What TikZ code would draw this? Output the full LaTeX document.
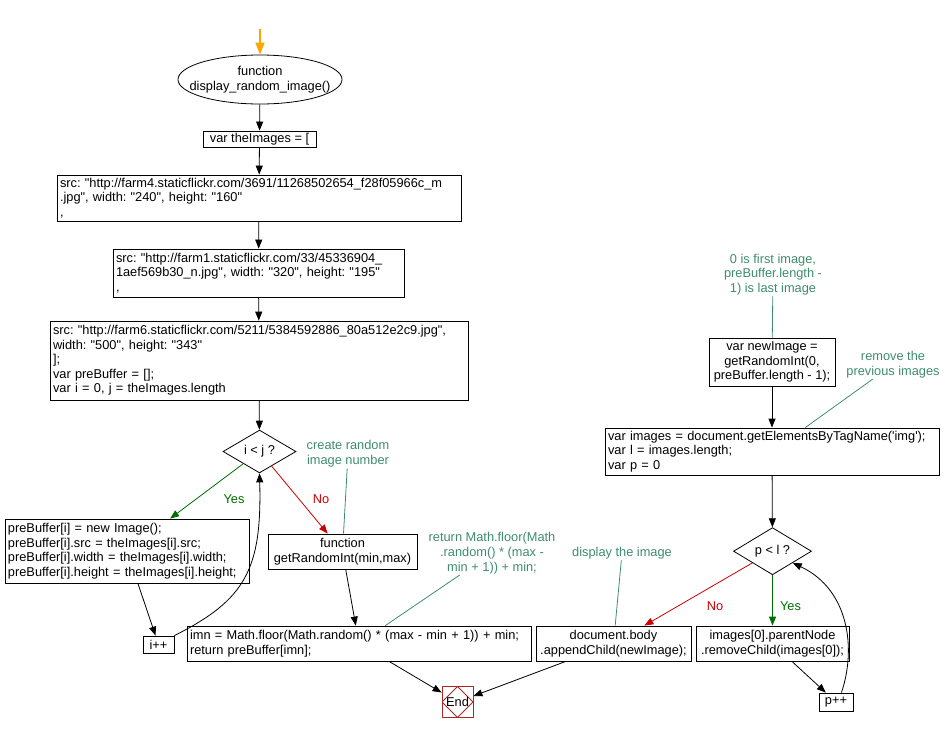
\documentclass[tikz,border=0pt]{standalone}
\usepackage{fontspec}
\setmainfont{Liberation Sans}[Ligatures=TeXOff]
\frenchspacing
\usepackage{tikz}
\usetikzlibrary{arrows.meta,shapes.geometric}
\definecolor{notegreen}{RGB}{62,140,110}
\definecolor{yesgreen}{RGB}{0,110,0}
\definecolor{nored}{RGB}{204,0,0}
\definecolor{endred}{RGB}{170,40,40}
\definecolor{startorange}{RGB}{255,165,0}
\tikzset{
  % 1 unit = 1px, y downwards
  px/.style={x=1pt, y=-1pt},
  % basic box
  box/.style={
    draw,
    line width=0.8pt,
    inner xsep=3pt,
    inner ysep=1pt,
    font=\fontsize{12.8}{14.5}\selectfont,
    align=center
  },
  % code box, left aligned
  code/.style={box, align=left},
  % function ellipse
  term/.style={box, ellipse, inner xsep=-13pt, inner ysep=2pt},
  % condition
  cond/.style={box, diamond, inner sep=0pt},
  % end marker
  stopbox/.style={
    draw=endred,
    line width=0.8pt,
    minimum size=31pt,
    inner sep=0pt,
    font=\fontsize{12.8}{14.5}\selectfont,
    path picture={\draw[endred, line width=0.8pt]
      (path picture bounding box.north) -- (path picture bounding box.east) --
      (path picture bounding box.south) -- (path picture bounding box.west) -- cycle;}
  },
  % comments
  note/.style={font=\fontsize{12.8}{14.8}\selectfont, text=notegreen, align=center, inner sep=1pt},
  link/.style={notegreen, line width=0.8pt},
  % arrows
  arr/.style={-{Triangle[length=9pt, width=7pt]}, line width=0.8pt},
  yesarr/.style={arr, yesgreen},
  noarr/.style={arr, nored},
  startarr/.style={-{Triangle[length=12pt, width=9pt]}, line width=1.6pt, startorange},
  yeslab/.style={font=\fontsize{12.8}{14.5}\selectfont, text=yesgreen},
  nolab/.style={font=\fontsize{12.8}{14.5}\selectfont, text=nored},
}

\begin{document}
\begin{tikzpicture}[px]
    \useasboundingbox (0,0) rectangle (946,734);

    % Left column
    \coordinate (start) at (260,29);
    \node[term, minimum width=164pt, minimum height=49pt] (fn) at (260,79.5) {function\\display\_random\_image()};
    \node[box, minimum width=113pt, minimum height=16pt] (theimg) at (259.5,139) {var theImages = [};
    \node[code, text width=398pt, minimum height=46pt] (src1) at (259,198)
        {src: "http://farm4.staticflickr.com/3691/11268502654\_f28f05966c\_m\\.jpg", width: "240", height: "160"\\,};
    \node[code, text width=285pt, minimum height=48pt] (src2) at (258.5,273)
        {src: "http://farm1.staticflickr.com/33/45336904\_\\1aef569b30\_n.jpg", width: "320", height: "195"\\,};
    \node[code, text width=412pt, minimum height=79pt] (src3) at (259,360.5)
        {src: "http://farm6.staticflickr.com/5211/5384592886\_80a512e2c9.jpg",\\width: "500", height: "343"\\];\\var preBuffer = [];\\var i = 0, j = theImages.length};
    \node[cond, minimum width=73pt, minimum height=39pt] (ij) at (259.5,451.5) {i < j ?};

    % Loop body
    \node[code, text width=238pt, minimum height=64pt] (prebuf) at (127,551)
        {preBuffer[i] = new Image();\\preBuffer[i].src = theImages[i].src;\\preBuffer[i].width = theImages[i].width;\\preBuffer[i].height = theImages[i].height;};
    \node[box, minimum width=31pt, minimum height=17pt] (inc) at (158.5,644.5) {i++};

    % Random function
    \node[box, minimum width=149pt, minimum height=35pt] (rand) at (342.5,551.5) {function\\getRandomInt(min,max)};
    \node[code, text width=338pt, minimum height=35pt] (imn) at (359,643.5)
        {imn = Math.floor(Math.random() * (max - min + 1)) + min;\\return preBuffer[imn];};
    \node[stopbox] (end) at (457.5,702) {End};

    % Right column
    \node[box, minimum width=126pt, minimum height=48pt] (newimg) at (772,362) {var newImage =\\getRandomInt(0,\\preBuffer.length - 1);};
    \node[code, text width=328pt, minimum height=47pt] (imgs) at (772,451.5)
        {var images = document.getElementsByTagName('img');\\var l = images.length;\\var p = 0};
    \node[cond, minimum width=78pt, minimum height=39pt] (pl) at (772.5,551.2) {p < l ?};
    \node[box, minimum width=155pt, minimum height=35pt] (append) at (613.5,643.5) {document.body\\.appendChild(newImage);};
    \node[box, minimum width=153pt, minimum height=35pt] (remove) at (772.5,643.5) {images[0].parentNode\\.removeChild(images[0]);};
    \node[box, minimum width=34pt, minimum height=18pt] (pinc) at (836,702) {p++};

    % Comments
    \node[note] (cmtrand) at (348,454) {create random\\image number};
    \node[note] (cmtfloor) at (492,553) {return Math.floor(Math\\.random() * (max -\\min + 1)) + min;};
    \node[note] (cmtdisp) at (622,553) {display the image};
    \node[note] (cmtfirst) at (773,274.5) {0 is first image,\\preBuffer.length -\\1) is last image};
    \node[note] (cmtremove) at (893,364.5) {remove the\\previous images};

    % Labels
    \node[yeslab] (yes1) at (234,499) {Yes};
    \node[nolab] (no1) at (321,499) {No};
    \node[nolab] (no2) at (715,606.5) {No};
    \node[yeslab] (yes2) at (790.5,606.5) {Yes};

    % Flow
    \draw[startarr] (start) -- (fn);
    \draw[arr] (fn) -- (theimg);
    \draw[arr] (theimg) -- (src1);
    \draw[arr] (src1) -- (src2);
    \draw[arr] (src2) -- (src3);
    \draw[arr] (src3) -- (ij);
    \draw[yesarr] (ij) -- (prebuf);
    \draw[noarr] (ij) -- (rand);
    \draw[arr] (prebuf) -- (inc);
    \draw[arr] (inc.north east) .. controls (245,600) and (262,570) .. (ij.south);
    \draw[arr] (rand) -- (imn);
    \draw[arr] (imn) -- (end);
    \draw[arr] (append) -- (end);
    \draw[arr] (newimg) -- (imgs);
    \draw[arr] (imgs) -- (pl);
    \draw[noarr] (pl) -- (append);
    \draw[yesarr] (pl) -- (remove);
    \draw[arr] (remove) -- (pinc);
    \draw[arr] (pinc.60) .. controls (856,650) and (850,590) .. (pl.-30);

    % Comment links
    \draw[link] (cmtrand) -- (rand);
    \draw[link] (cmtfloor) -- (imn);
    \draw[link] (cmtdisp) -- (append);
    \draw[link] (cmtfirst) -- (newimg);
    \draw[link] (cmtremove) -- (imgs);
\end{tikzpicture}
\end{document}
